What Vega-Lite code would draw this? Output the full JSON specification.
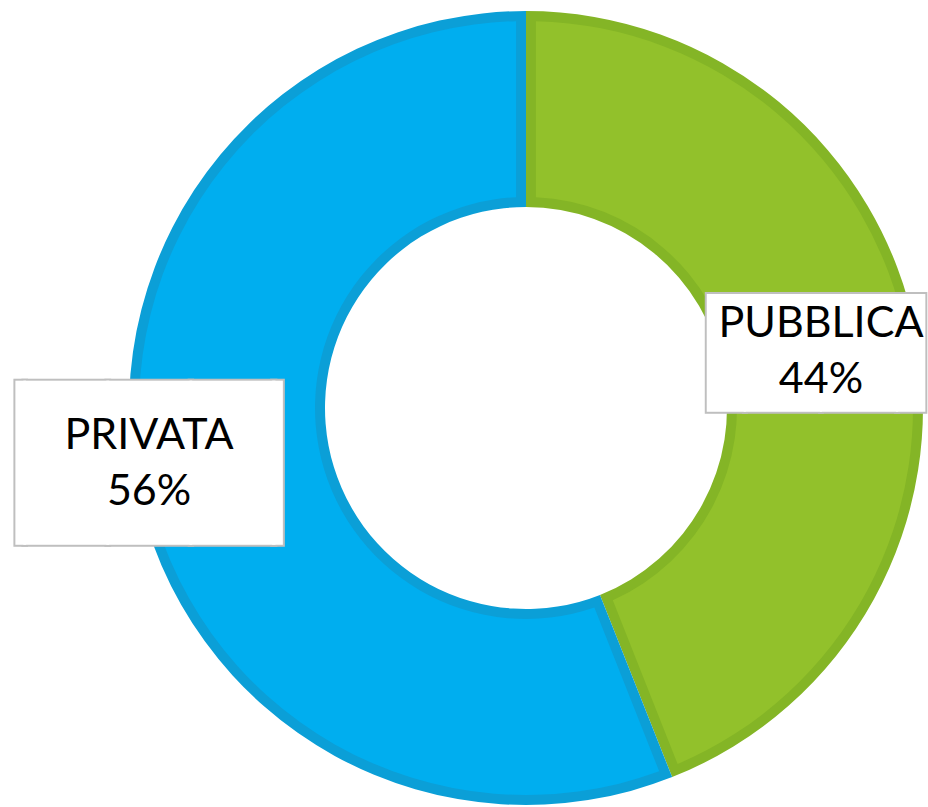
{
  "$schema": "https://vega.github.io/schema/vega-lite/v6.json",
  "width": 804,
  "height": 796,
  "autosize": {"type": "none"},
  "padding": {"left": 124, "top": 10, "right": 0, "bottom": 1},
  "background": "white",
  "view": {"stroke": null},
  "data": {"values": [
    {"categoria": "PUBBLICA", "valore": 44},
    {"categoria": "PRIVATA", "valore": 56}
  ]},
  "encoding": {
    "theta": {"field": "valore", "type": "quantitative", "stack": true},
    "order": {"field": "valore", "type": "quantitative", "sort": "ascending"}
  },
  "layer": [
    {
      "mark": {"type": "arc", "outerRadius": 397, "innerRadius": 201},
      "encoding": {
        "color": {"field": "categoria", "type": "nominal", "scale": {"domain": ["PUBBLICA", "PRIVATA"], "range": ["#84b526", "#0b9fd7"]}, "legend": null}
      }
    },
    {
      "mark": {"type": "arc", "outerRadius": 387, "innerRadius": 211, "padAngle": 0.045},
      "encoding": {
        "fill": {"field": "categoria", "type": "nominal", "scale": {"domain": ["PUBBLICA", "PRIVATA"], "range": ["#92c12b", "#00aeef"]}, "legend": null}
      }
    },
    {
      "mark": {"type": "text", "font": {"expr": "datum.categoria == 'PUBBLICA' ? 'DejaVu Sans' : 'DejaVu Sans Mono'"}, "text": {"expr": "datum.categoria == 'PUBBLICA' ? '▐██▍' : '▕███▏'"}, "fill": "white", "stroke": "#bfbfbf", "strokeWidth": 4, "align": "center", "baseline": "middle", "dy": 5},
      "encoding": {
        "theta": {"field": "valore", "type": "quantitative", "stack": true, "scale": {"domain": [0, 100], "range": [-0.01676, 6.3467]}},
        "detail": {"field": "categoria", "type": "nominal"},
        "radius": {"field": "valore", "type": "quantitative", "scale": {"type": "linear", "domain": [0, 100], "range": [4.0, 677.3], "zero": true}},
        "size": {"field": "categoria", "type": "ordinal", "scale": {"domain": ["PUBBLICA", "PRIVATA"], "range": [99, 138]}, "legend": null}
      }
    },
    {
      "mark": {"type": "text", "font": {"expr": "datum.categoria == 'PUBBLICA' ? 'DejaVu Sans' : 'DejaVu Sans Mono'"}, "text": {"expr": "datum.categoria == 'PUBBLICA' ? '▐██▍' : '▕███▏'"}, "fill": "white", "align": "center", "baseline": "middle", "dy": 5},
      "encoding": {
        "theta": {"field": "valore", "type": "quantitative", "stack": true, "scale": {"domain": [0, 100], "range": [-0.01676, 6.3467]}},
        "detail": {"field": "categoria", "type": "nominal"},
        "radius": {"field": "valore", "type": "quantitative", "scale": {"type": "linear", "domain": [0, 100], "range": [4.0, 677.3], "zero": true}},
        "size": {"field": "categoria", "type": "ordinal", "scale": {"domain": ["PUBBLICA", "PRIVATA"], "range": [99, 138]}, "legend": null}
      }
    },
    {
      "mark": {"type": "text", "font": "Lato", "fontSize": 43, "lineHeight": 56, "dy": -28, "align": "center", "baseline": "middle", "fill": "black", "text": {"expr": "[datum.categoria, datum.valore + '%']"}},
      "encoding": {
        "theta": {"field": "valore", "type": "quantitative", "stack": true, "scale": {"domain": [0, 100], "range": [-0.01676, 6.3467]}},
        "detail": {"field": "categoria", "type": "nominal"},
        "radius": {"field": "valore", "type": "quantitative", "scale": {"type": "linear", "domain": [0, 100], "range": [4.0, 677.3], "zero": true}}
      }
    }
  ],
  "resolve": {"scale": {"theta": "independent"}}
}
